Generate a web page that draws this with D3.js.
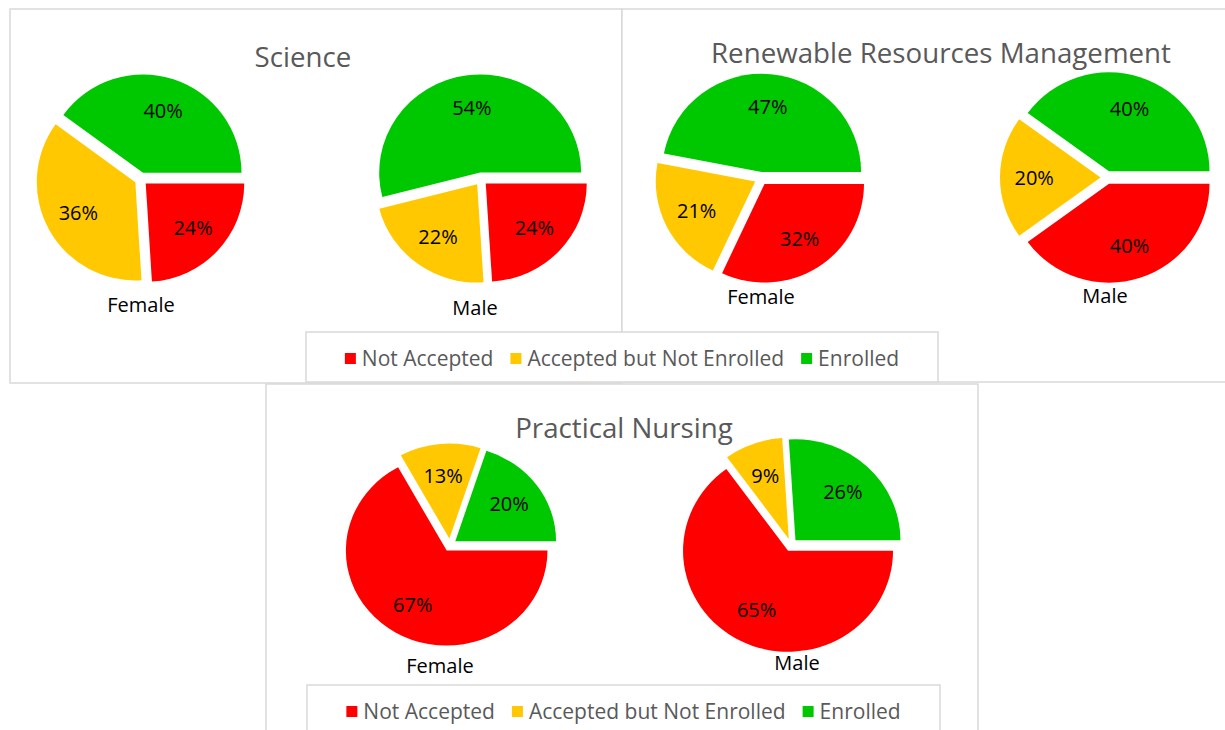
<!DOCTYPE html>
<html>
<head>
<meta charset="utf-8">
<script src="https://cdn.jsdelivr.net/npm/d3@7"></script>
<style>
  body { margin: 0; background: #fff; }
  svg { display: block; font-family: "Open Sans", sans-serif; }
</style>
</head>
<body>
<div id="chart"></div>
<script>
// categories and colours shared by all the pies
var categories = ["Not Accepted", "Accepted but Not Enrolled", "Enrolled"];
var colors = ["#FF0000", "#FFC800", "#00C800"];
var genders = ["Female", "Male"];
var programs = ["Science", "Renewable Resources Management", "Practical Nursing"];

// percentages per program, in category order
var scienceFemale = [24, 36, 40];
var scienceMale = [24, 22, 54];
var renewableFemale = [32, 21, 47];
var renewableMale = [40, 20, 40];
var nursingFemale = [67, 13, 20];
var nursingMale = [65, 9, 26];

var width = 1225,
    height = 730,
    explode = 6.5; // how far every slice is pulled out

var svg = d3.select("#chart").append("svg")
    .attr("width", width)
    .attr("height", height);

// panel layout: frames, titles, pie placement
var panels = [
    { title: programs[0], frame: [10, 9, 612, 374], titleX: 303, titleY: 57,
      pies: [
        { values: scienceFemale, cx: 141, cy: 179, rx: 98.5, ry: 98.3, lx: 141, ly: 305 },
        { values: scienceMale, cx: 481, cy: 179, rx: 101, ry: 98.3, lx: 475, ly: 308 }
      ],
      legend: [306, 332, 632, 50] },
    { title: programs[1], frame: [622, 9, 620, 373], titleX: 941, titleY: 53,
      pies: [
        { values: renewableFemale, cx: 761, cy: 178.5, rx: 99.5, ry: 98.5, lx: 761, ly: 297 },
        { values: renewableMale, cx: 1107, cy: 177.5, rx: 100.5, ry: 99, lx: 1105, ly: 296 }
      ],
      legend: null },
    { title: programs[2], frame: [266, 384, 712, 360], titleX: 624, titleY: 428,
      pies: [
        { values: nursingFemale, cx: 450, cy: 545, rx: 100.8, ry: 95, lx: 440, ly: 666 },
        { values: nursingMale, cx: 791, cy: 545, rx: 105, ry: 101, lx: 797, ly: 663 }
      ],
      legend: [307, 685, 633, 60] }
];

var pie = d3.pie()
    .sort(null)
    .startAngle(Math.PI / 2)
    .endAngle(Math.PI / 2 + 2 * Math.PI);

// unit arc, stretched per pie with a transform
var arc = d3.arc().innerRadius(0).outerRadius(1);

// frames first so the legend boxes can sit on top of them
panels.forEach(function (p) {
    svg.append("rect")
        .attr("x", p.frame[0])
        .attr("y", p.frame[1])
        .attr("width", p.frame[2])
        .attr("height", p.frame[3])
        .attr("fill", "#fff")
        .attr("stroke", "#D9D9D9")
        .attr("stroke-width", 1.5);
});

panels.forEach(function (p) {
    var g = svg.append("g");

    g.append("text")
        .attr("x", p.titleX)
        .attr("y", p.titleY)
        .attr("dy", "0.35em")
        .attr("text-anchor", "middle")
        .attr("fill", "#595959")
        .style("font-size", "27.7px")
        .text(p.title);

    p.pies.forEach(function (pc, gi) {
        var slices = pie(pc.values);

        slices.forEach(function (s, i) {
            var mid = (s.startAngle + s.endAngle) / 2;
            var dx = explode * Math.sin(mid),
                dy = -explode * Math.cos(mid);

            g.append("path")
                .attr("d", arc(s))
                .attr("transform", "translate(" + (pc.cx + dx) + "," + (pc.cy + dy) + ") scale(" + pc.rx + "," + pc.ry + ")")
                .attr("fill", colors[i]);

            g.append("text")
                .attr("x", pc.cx + dx + 0.66 * pc.rx * Math.sin(mid))
                .attr("y", pc.cy + dy - 0.66 * pc.ry * Math.cos(mid))
                .attr("dy", "0.35em")
                .attr("text-anchor", "middle")
                .attr("fill", "#000")
                .style("font-size", "20px")
                .text(s.data + "%");
        });

        g.append("text")
            .attr("x", pc.lx)
            .attr("y", pc.ly)
            .attr("dy", "0.35em")
            .attr("text-anchor", "middle")
            .attr("fill", "#000")
            .style("font-size", "20px")
            .text(genders[gi]);
    });

    if (p.legend) {
        var L = p.legend;
        g.append("rect")
            .attr("x", L[0])
            .attr("y", L[1])
            .attr("width", L[2])
            .attr("height", L[3])
            .attr("fill", "#fff")
            .attr("stroke", "#D9D9D9")
            .attr("stroke-width", 1.5);

        // lay the items out left to right, centred in the box
        var items = g.append("g");
        var x = 0;
        categories.forEach(function (c, i) {
            var item = items.append("g").attr("transform", "translate(" + x + ",0)");
            item.append("rect")
                .attr("x", 0)
                .attr("y", -6)
                .attr("width", 11)
                .attr("height", 11)
                .attr("fill", colors[i]);
            var t = item.append("text")
                .attr("x", 17)
                .attr("y", 0)
                .attr("dy", "0.35em")
                .attr("fill", "#595959")
                .style("font-size", "21px")
                .text(c);
            x += 17 + t.node().getComputedTextLength() + 17;
        });
        var total = x - 17;
        items.attr("transform", "translate(" + (L[0] + (L[2] - total) / 2) + "," + (L[1] + 27) + ")");
    }
});
</script>
</body>
</html>
